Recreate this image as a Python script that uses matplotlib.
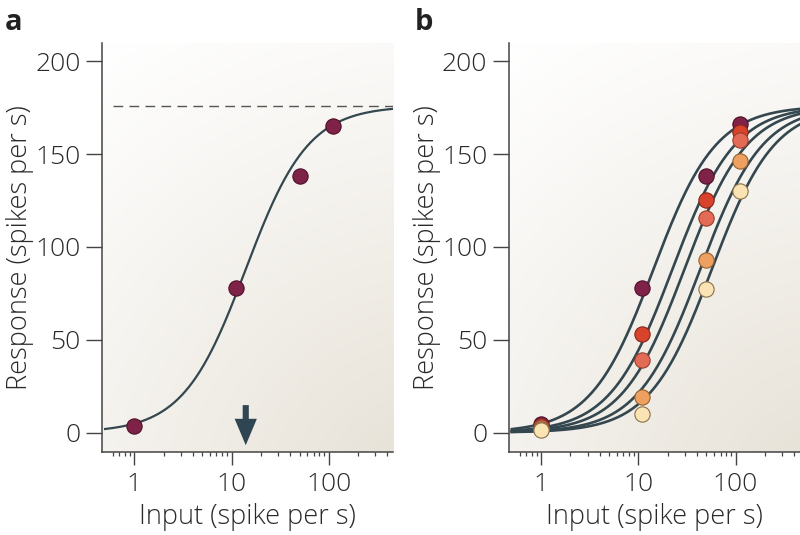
import numpy as np
import matplotlib
matplotlib.use("Agg")
import matplotlib.pyplot as plt
from matplotlib.colors import to_rgb

# ---------------- data ----------------
x_inputs = [1, 11, 50, 110]                      # input rates (spikes/s)
resp_a = [3.5, 78, 138, 165]                     # panel a responses
r_max = 176                                      # saturation (dashed line)
hill_n = 1.35                                    # Naka-Rushton exponent
c50_a = 14                                       # semi-saturation, panel a (arrow)

# panel b: five conditions
c50_b = [14.3, 22.4, 29.8, 43.3, 57.0]
resp_b1 = [4.4, 78, 138, 166]
resp_b2 = [3.5, 53, 125.5, 162]
resp_b3 = [3.0, 39, 115.5, 157.5]
resp_b4 = [2.0, 19, 93, 146.5]
resp_b5 = [1.3, 10, 77.5, 130]
resp_b = [resp_b1, resp_b2, resp_b3, resp_b4, resp_b5]

face_cols = ["#7e2247", "#d8432c", "#e36b55", "#eda060", "#fbe4b4"]
edge_cols = ["#4f1029", "#85261a", "#963d2e", "#95602f", "#8a7048"]

x_ticks = [1, 10, 100]
y_ticks = [0, 50, 100, 150, 200]
minor_ticks = [0.6, 0.7, 0.8, 0.9, 2, 3, 4, 5, 6, 7, 8, 9,
               20, 30, 40, 50, 60, 70, 80, 90, 200, 300, 400]

XLIM = (0.465, 460)
YLIM = (-10.5, 210)
CURVE_COL = "#34474f"
AX_COL = "#444444"
FONT = "Open Sans"
TXT_COL = "#2a2a2a"

plt.rcParams['font.family'] = [FONT, 'DejaVu Sans']


def naka(x, c50):
    x = np.asarray(x, float)
    return r_max * x ** hill_n / (x ** hill_n + c50 ** hill_n)


def gradient_bg(ax):
    h, w = 300, 220
    yy, xx = np.mgrid[0:h, 0:w]
    u = xx / (w - 1)
    v = 1 - yy / (h - 1)
    d = np.sqrt(((u - 1.15) * 0.71) ** 2 + (v + 0.15) ** 2)
    dmin, dmax = d.min(), d.max()
    f = 1 - (d - dmin) / (dmax - dmin)
    f = np.clip(f, 0, 1) ** 1.1
    c0 = np.array(to_rgb("#ffffff"))
    c1 = np.array(to_rgb("#e8e3d9"))
    img = c0[None, None, :] * (1 - f[..., None]) + c1[None, None, :] * f[..., None]
    ax.imshow(img, extent=[0, 1, 0, 1], transform=ax.transAxes, aspect='auto',
              zorder=0, interpolation='bilinear')


def style(ax):
    ax.set_xscale('log')
    ax.set_autoscale_on(False)
    ax.set_xlim(*XLIM)
    ax.set_ylim(*YLIM)
    for s in ['top', 'right']:
        ax.spines[s].set_visible(False)
    for s in ['left', 'bottom']:
        ax.spines[s].set_color(AX_COL)
        ax.spines[s].set_linewidth(1.1)
    ax.set_xticks(x_ticks)
    ax.set_xticklabels([str(t) for t in x_ticks], fontweight=300)
    ax.set_xticks(minor_ticks, minor=True)
    ax.set_xticklabels([], minor=True)
    ax.set_yticks(y_ticks)
    ax.set_yticklabels([str(t) for t in y_ticks], fontweight=300)
    ax.tick_params(axis='both', which='major', direction='out', length=9.5,
                   width=1.0, color=AX_COL, labelsize=19, labelcolor=TXT_COL, pad=5)
    ax.tick_params(axis='x', which='minor', direction='out', length=3,
                   width=0.9, color=AX_COL)
    ax.tick_params(axis='y', which='major', length=11.5, pad=4)
    ax.set_xlabel("Input (spike per s)", fontsize=19.5, fontweight=300,
                  color=TXT_COL, labelpad=4)
    ax.set_ylabel("Response (spikes per s)", fontsize=19.5, fontweight=300,
                  color=TXT_COL, va='center')
    ax.yaxis.set_label_coords(-0.282, 0.5)


fig = plt.figure(figsize=(8, 5.35), dpi=100)
fig.patch.set_facecolor("white")

ax_a = fig.add_axes([0.1275, 0.155, 0.364, 0.765])
ax_b = fig.add_axes([0.636, 0.155, 0.364, 0.765])

xs = np.logspace(np.log10(0.5), np.log10(600), 400)

# ----- panel a -----
gradient_bg(ax_a)
style(ax_a)
ax_a.plot(xs, naka(xs, c50_a), color=CURVE_COL, lw=1.6, zorder=2)
ax_a.plot([0.61, 600], [r_max, r_max], color="#555555", lw=1.0,
          dashes=(7, 4.5), zorder=2)
ax_a.plot(x_inputs, resp_a, 'o', ms=11, mfc=face_cols[0], mec=edge_cols[0],
          mew=0.8, zorder=3)
ax_a.annotate("", xy=(c50_a, -6.8), xytext=(c50_a, 14.8),
              arrowprops=dict(width=4.4, headwidth=16, headlength=19,
                              fc="#2f4552", ec="none", shrink=0),
              zorder=3)

# ----- panel b -----
gradient_bg(ax_b)
style(ax_b)
for c in c50_b:
    ax_b.plot(xs, naka(xs, c), color=CURVE_COL, lw=1.9, zorder=2)
for r, fc, ec in zip(resp_b, face_cols, edge_cols):
    ax_b.plot(x_inputs, r, 'o', ms=11, mfc=fc, mec=ec, mew=0.8, zorder=3)

fig.text(0.006, 0.958, "a", fontsize=21, fontweight='bold', color="#222222",
         va='center', ha='left')
fig.text(0.519, 0.958, "b", fontsize=21, fontweight='bold', color="#222222",
         va='center', ha='left')

fig.savefig("out.png", dpi=100)
